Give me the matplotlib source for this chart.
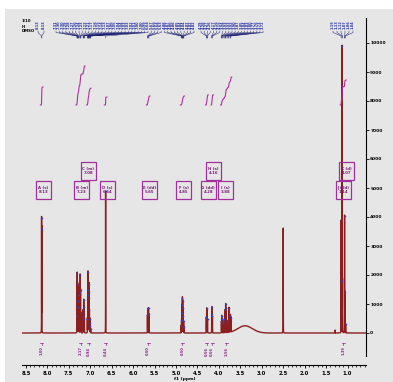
import numpy as np
import matplotlib
matplotlib.use("Agg")
import matplotlib.pyplot as plt
from matplotlib.patches import Rectangle
from matplotlib.ticker import MultipleLocator

W, H = 393, 382

# picked lines of each multiplet: shift (ppm) and intensity
A_ppm = [8.133, 8.128]
A_int = [3950, 3600]
B_ppm = [7.310, 7.302, 7.296, 7.290, 7.280, 7.268, 7.260, 7.240, 7.232, 7.225,
         7.215, 7.165, 7.158, 7.150, 7.142, 7.135]
B_int = [600, 2070, 1700, 1100, 900, 1660, 1300, 1400, 2000, 1500,
         700, 800, 600, 1150, 900, 500]
C_ppm = [7.065, 7.058, 7.051, 7.045, 7.038, 7.031, 7.025, 7.018, 7.010, 7.003,
         6.996, 6.990]
C_int = [500, 1300, 2100, 1500, 1200, 1700, 1400, 800, 500, 350, 250, 150]
D_ppm = [6.640]
D_int = [4900]
E_ppm = [5.665, 5.655, 5.640, 5.630]
E_int = [620, 850, 860, 650]
F_ppm = [4.878, 4.870, 4.862, 4.856, 4.850, 4.845, 4.838, 4.830, 4.822, 4.815]
F_int = [250, 450, 700, 950, 1200, 1100, 850, 600, 400, 220]
G_ppm = [4.292, 4.284, 4.274, 4.265]
G_int = [550, 860, 820, 480]
H_ppm = [4.168, 4.160, 4.150]
H_int = [650, 900, 580]
I_ppm = [3.940, 3.934, 3.926, 3.915, 3.900, 3.872, 3.852, 3.842, 3.834, 3.800,
         3.772, 3.764, 3.730, 3.722]
I_int = [400, 600, 480, 420, 350, 480, 800, 1000, 850, 420, 700, 860, 600, 520]
JK_ppm = [1.150, 1.128, 1.120, 1.070, 1.062, 1.045]
JK_int = [3900, 9900, 1800, 4050, 1400, 300]

# lines that were not picked (solvent, grease)
other_ppm = [2.500, 1.290]
other_int = [3620, 100]
# broad exchange hump
hump_ppm, hump_int, hump_sd = 3.39, 250, 0.17

# multiplet report boxes
box_names = ["A (s)", "B (m)", "C (m)", "D (s)", "E (dd)", "F (s)", "G (dd)",
             "H (s)", "I (s)", "J (dd)", "K (d)"]
box_shifts = [8.13, 7.23, 7.08, 6.64, 5.65, 4.85, 4.28, 4.16, 3.88, 1.14, 1.07]
box_upper = ["C (m)", "H (s)", "K (d)"]

# integration ranges and values
integ_hi = [8.16, 7.33, 7.08, 6.67, 5.69, 4.90, 4.31, 4.18, 3.96, 1.17]
integ_lo = [8.10, 7.12, 6.98, 6.61, 5.61, 4.80, 4.25, 4.13, 3.70, 1.03]
integ_val = [1.00, 2.17, 0.94, 0.44, 0.50, 0.50, 0.56, 0.56, 1.56, 1.39]

y_ticks = list(range(0, 10001, 1000))
x_ticks = [8.5, 8.0, 7.5, 7.0, 6.5, 6.0, 5.5, 5.0, 4.5, 4.0, 3.5, 3.0, 2.5, 2.0, 1.5, 1.0]


# pixel <-> data helpers for the layout
def px2ppm(px):
    return 8.13 - (px - 41.7) / 42.9


def ppm2px(ppm):
    return 41.7 + (8.13 - ppm) * 42.9


def py2int(py):
    return (333 - py) / 0.029


groups = [(A_ppm, A_int), (B_ppm, B_int), (C_ppm, C_int), (D_ppm, D_int),
          (E_ppm, E_int), (F_ppm, F_int), (G_ppm, G_int), (H_ppm, H_int),
          (I_ppm, I_int), (JK_ppm, JK_int)]

all_ppm = np.array(sum([g[0] for g in groups], []) + other_ppm)
all_int = np.array(sum([g[1] for g in groups], []) + other_int)

x = np.linspace(px2ppm(22), px2ppm(366), 60000)
hw = 0.0008
spec = np.zeros_like(x)
for p, a in zip(all_ppm, all_int):
    spec += a / (1 + ((x - p) / hw) ** 2)
spec += hump_int * np.exp(-0.5 * ((x - hump_ppm) / hump_sd) ** 2)

fig = plt.figure(figsize=(W / 100, H / 100), dpi=100)
fig.patch.set_facecolor("white")
fig.patches.append(Rectangle((5 / W, 0), 1, (H - 9) / H, transform=fig.transFigure,
                             facecolor="#e6e6e6", edgecolor="none", zorder=-10))

ax = fig.add_axes([22 / W, (H - 365) / H, (366 - 22) / W, (365 - 18) / H])
ax.set_facecolor("none")
ax.set_xlim(px2ppm(22), px2ppm(366))
ax.set_ylim(py2int(365), py2int(18))

ax.plot(x, spec, color="#8b1f1f", lw=1.0, zorder=3)
picked_p = np.array(sum([g[0] for g in groups], []))
picked_a = np.array(sum([g[1] for g in groups], []))
ax.plot(picked_p, picked_a, "o", ms=1.2, mec="none", mfc="#3646c8", zorder=4)

# axes styling
for s in ["left", "top"]:
    ax.spines[s].set_visible(False)
ax.spines["bottom"].set_linewidth(0.8)
ax.spines["right"].set_linewidth(0.8)
ax.spines["right"].set_bounds(py2int(356), py2int(18))
ax.yaxis.tick_right()
ax.set_yticks(y_ticks)
ax.set_yticklabels([str(v) for v in y_ticks])
ax.set_xticks(x_ticks)
ax.set_xticklabels([f"{v:.1f}" for v in x_ticks])
ax.xaxis.set_minor_locator(MultipleLocator(0.1))
ax.tick_params(axis="x", which="major", length=2.5, width=0.6, labelsize=3.8, pad=2)
ax.tick_params(axis="x", which="minor", length=1.3, width=0.5)
ax.tick_params(axis="y", length=2, width=0.6, labelsize=3.2, pad=1)
for t in ax.get_xticklabels() + ax.get_yticklabels():
    t.set_fontweight("bold")
ax.text(px2ppm(185), py2int(379), "f1 (ppm)", fontsize=3.2, fontweight="bold",
        ha="center", va="center", clip_on=False)

# sample header
for i, s in enumerate(["1/10", "H", "DMSO"]):
    ax.text(px2ppm(22), py2int(21.5 + 5 * i), s, fontsize=2.8, fontweight="bold",
            ha="left", va="center", clip_on=False)

# peak labels with leader lines
spans = [((38, 44), [0]), ((56, 194), [1, 2, 3, 4, 5]),
         ((201, 263), [6, 7, 8]), ((333, 353), [9])]
for (x0, x1), members in spans:
    pk = sum([groups[m][0] for m in members], [])
    n = len(pk)
    slots = np.linspace(x0, x1, n) if n > 1 else [x0]
    for s, p in zip(slots, pk):
        ax.text(px2ppm(s), py2int(25), f"{p:.2f}", rotation=90, fontsize=2.5,
                fontweight="bold", color="#2b35a8", ha="center", va="center",
                clip_on=False)
        ax.plot([px2ppm(s), px2ppm(s), p, p],
                [py2int(31), py2int(32.5), py2int(36), py2int(38)],
                color="#1c2070", lw=0.35, clip_on=False)

# multiplet boxes
for name, sh in zip(box_names, box_shifts):
    cy = 171 if name in box_upper else 190
    cx = ppm2px(sh) + 1.5
    ax.add_patch(Rectangle((px2ppm(cx - 7.5), py2int(cy + 9)),
                           px2ppm(cx + 7.5) - px2ppm(cx - 7.5),
                           py2int(cy - 9) - py2int(cy + 9),
                           facecolor="none", edgecolor="#a1309e", lw=0.9,
                           clip_on=False, zorder=5))
    ax.text(px2ppm(cx), py2int(cy), f"{name}\n{sh:.2f}", fontsize=2.8,
            fontweight="bold", color="#7c1c7a", ha="center", va="center",
            linespacing=1.3, clip_on=False, zorder=6)

# integral curves and values
base = py2int(105)
unit = 18 / 0.029
for hi, lo, v in zip(integ_hi, integ_lo, integ_val):
    m = (x <= hi) & (x >= lo)
    xs = x[m]
    cum = np.cumsum(spec[m])
    cum = cum / cum[-1]
    ax.plot(xs, base + cum * v * unit, color="#b0309a", lw=0.8, zorder=4)
    cx = 0.5 * (hi + lo)
    ax.text(cx, py2int(351), f"{v:.2f}", rotation=90, fontsize=2.6,
            fontweight="bold", color="#8a2a8a", ha="center", va="center",
            clip_on=False)
    ax.plot([cx, cx], [py2int(343), py2int(345)], color="#8a2a8a", lw=0.5,
            clip_on=False)
    ax.plot([px2ppm(ppm2px(cx) - 1.5), px2ppm(ppm2px(cx) + 1.5)],
            [py2int(343), py2int(343)], color="#8a2a8a", lw=0.5, clip_on=False)

fig.savefig("out.png", dpi=100, facecolor=fig.get_facecolor())
